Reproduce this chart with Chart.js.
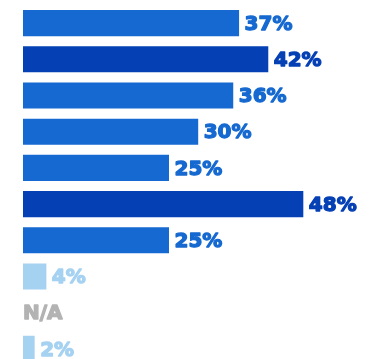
<!DOCTYPE html>
<html>
<head>
<meta charset="utf-8">
<script src="https://cdn.jsdelivr.net/npm/chart.js@4"></script>
<style>
  html, body { margin: 0; padding: 0; background: #fff; overflow: hidden; }
  #wrap { position: relative; width: 377px; height: 368px; }
</style>
</head>
<body>
<div id="wrap"><canvas id="chart"></canvas></div>
<script>
// rows as seen in the crop (category names are cut off in the reference)
const categories = ['Row 1', 'Row 2', 'Row 3', 'Row 4', 'Row 5', 'Row 6', 'Row 7', 'Row 8', 'Row 9', 'Row 10'];
const values = [37, 42, 36, 30, 25, 48, 25, 4, null, 2];
const tones = ['mid', 'dark', 'mid', 'mid', 'mid', 'dark', 'mid', 'light', 'na', 'light'];

const palette = { mid: '#1569d0', dark: '#0540b5', light: '#a6d2f2', na: '#b3b3b3' };
const FONT = 'bold 20px "DejaVu Sans"';

// draws "37%" after each bar, "N/A" where there is no value
const valueLabels = {
  id: 'valueLabels',
  afterDatasetsDraw(chart) {
    const ctx = chart.ctx;
    const meta = chart.getDatasetMeta(0);
    ctx.save();
    ctx.font = FONT;
    ctx.textBaseline = 'middle';
    ctx.textAlign = 'left';
    ctx.lineWidth = 1.3;
    ctx.lineJoin = 'round';
    meta.data.forEach((bar, i) => {
      const v = values[i];
      const txt = v == null ? 'N/A' : v + '%';
      const x = v == null ? chart.chartArea.left : bar.x + 5.5;
      ctx.fillStyle = ctx.strokeStyle = palette[tones[i]];
      // extra stroke to get the heavy weight of the original
      ctx.fillText(txt, x, bar.y + 1.5);
      ctx.strokeText(txt, x, bar.y + 1.5);
    });
    ctx.restore();
  }
};

new Chart(document.getElementById('chart'), {
  type: 'bar',
  data: {
    labels: categories,
    datasets: [{
      data: values,
      backgroundColor: tones.map(t => palette[t]),
      borderWidth: 0,
      categoryPercentage: 0.72,
      barPercentage: 1
    }]
  },
  options: {
    indexAxis: 'y',
    responsive: true,
    maintainAspectRatio: false,
    animation: false,
    layout: { padding: { left: 23, right: 3.6, top: 5, bottom: 1 } },
    plugins: { legend: { display: false }, tooltip: { enabled: false } },
    scales: {
      x: { display: false, min: 0, max: 60 },
      y: { display: false }
    }
  },
  plugins: [valueLabels]
});
</script>
</body>
</html>
